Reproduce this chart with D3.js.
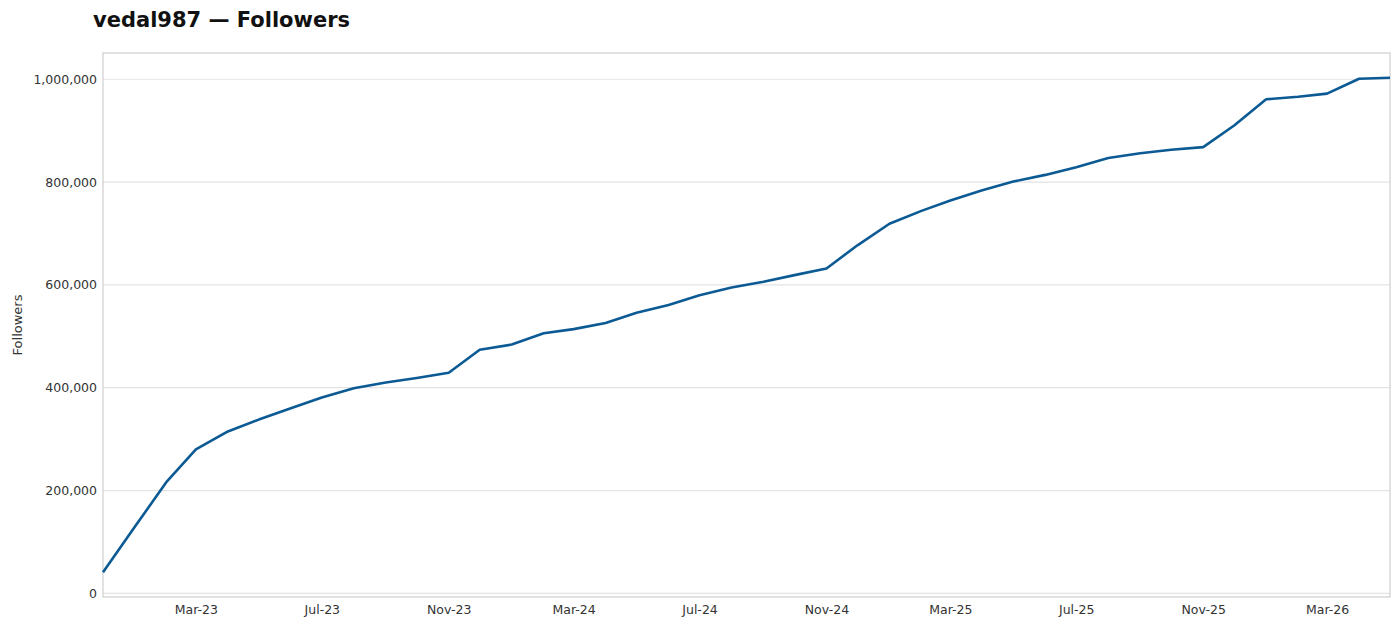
<!DOCTYPE html>
<html>
<head>
<meta charset="utf-8">
<script src="https://cdn.jsdelivr.net/npm/d3@7.9.0/dist/d3.min.js"></script>
<style>
  body { margin: 0; background: #fff; }
  svg { display: block; font-family: "DejaVu Sans", sans-serif; }
</style>
</head>
<body>
<svg id="chart" width="1400" height="626"></svg>
<script>
// monthly follower counts, Dec-22 .. May-26
const months = [
  '2022-12', '2023-01', '2023-02', '2023-03', '2023-04', '2023-05', '2023-06',
  '2023-07', '2023-08', '2023-09', '2023-10', '2023-11', '2023-12', '2024-01',
  '2024-02', '2024-03', '2024-04', '2024-05', '2024-06', '2024-07', '2024-08',
  '2024-09', '2024-10', '2024-11', '2024-12', '2025-01', '2025-02', '2025-03',
  '2025-04', '2025-05', '2025-06', '2025-07', '2025-08', '2025-09', '2025-10',
  '2025-11', '2025-12', '2026-01', '2026-02', '2026-03', '2026-04', '2026-05'
];
const followers = [
  41000, 130000, 218000, 280000, 315000, 338000, 360000,
  381000, 399000, 410000, 419000, 429000, 474000, 484000,
  506000, 514000, 526000, 546000, 561000, 580000, 595000,
  606000, 619000, 632000, 677000, 719000, 744000, 764000,
  784000, 801000, 814000, 829000, 847000, 856000, 863000,
  868000, 910000, 961000, 966000, 972000, 1001000, 1003000
];
const yTicks = [0, 200000, 400000, 600000, 800000, 1000000];
const xTickMonths = ['2023-03', '2023-07', '2023-11', '2024-03', '2024-07', '2024-11',
  '2025-03', '2025-07', '2025-11', '2026-03'];

const parseMonth = d3.timeParse('%Y-%m');
const data = months.map((m, i) => ({ date: parseMonth(m), value: followers[i] }));

const margin = { top: 53, right: 10, bottom: 29, left: 103 };
const width = 1400, height = 626;

const svg = d3.select('#chart');

let x = d3.scaleTime()
  .domain(d3.extent(data, d => d.date))
  .range([margin.left, width - margin.right]);

// matplotlib-like 5% padding on y
const [yMin, yMax] = d3.extent(followers);
const pad = (yMax - yMin) * 0.05;
let y = d3.scaleLinear()
  .domain([yMin - pad, yMax + pad])
  .range([height - margin.bottom, margin.top]);

// gridlines
svg.append('g')
  .selectAll('line')
  .data(yTicks)
  .join('line')
  .attr('x1', margin.left)
  .attr('x2', width - margin.right)
  .attr('y1', d => y(d))
  .attr('y2', d => y(d))
  .attr('stroke', '#e3e3e3')
  .attr('stroke-width', 1.2);

// frame
svg.append('rect')
  .attr('x', margin.left)
  .attr('y', margin.top)
  .attr('width', width - margin.left - margin.right)
  .attr('height', height - margin.top - margin.bottom)
  .attr('fill', 'none')
  .attr('stroke', '#cfcfcf')
  .attr('stroke-width', 1.2);

// y axis
let yAxis = d3.axisLeft(y)
  .tickValues(yTicks)
  .tickFormat(d3.format(','))
  .tickSize(0)
  .tickPadding(6);
let gy = svg.append('g')
  .attr('transform', `translate(${margin.left},0)`)
  .call(yAxis);
gy.select('.domain').remove();
gy.selectAll('text')
  .attr('font-size', 12.5)
  .attr('fill', '#333')
  .attr('font-family', '"DejaVu Sans", sans-serif');

// x axis
let xAxis = d3.axisBottom(x)
  .tickValues(xTickMonths.map(parseMonth))
  .tickFormat(d3.timeFormat('%b-%y'))
  .tickSize(0)
  .tickPadding(8);
let gx = svg.append('g')
  .attr('transform', `translate(0,${height - margin.bottom})`)
  .call(xAxis);
gx.select('.domain').remove();
gx.selectAll('text')
  .attr('font-size', 12.5)
  .attr('fill', '#333')
  .attr('font-family', '"DejaVu Sans", sans-serif');

// line
let line = d3.line()
  .x(d => x(d.date))
  .y(d => y(d.value));

svg.append('path')
  .datum(data)
  .attr('d', line)
  .attr('fill', 'none')
  .attr('stroke', '#0b5a94')
  .attr('stroke-width', 2.6)
  .attr('stroke-linejoin', 'round');

// y label
svg.append('text')
  .attr('transform', `translate(22,${(margin.top + height - margin.bottom) / 2}) rotate(-90)`)
  .attr('text-anchor', 'middle')
  .attr('font-size', 13)
  .attr('fill', '#333')
  .text('Followers');

// title
svg.append('text')
  .attr('x', 93)
  .attr('y', 27)
  .attr('font-size', 21)
  .attr('font-weight', 'bold')
  .attr('fill', '#111')
  .text('vedal987 — Followers');
</script>
</body>
</html>
